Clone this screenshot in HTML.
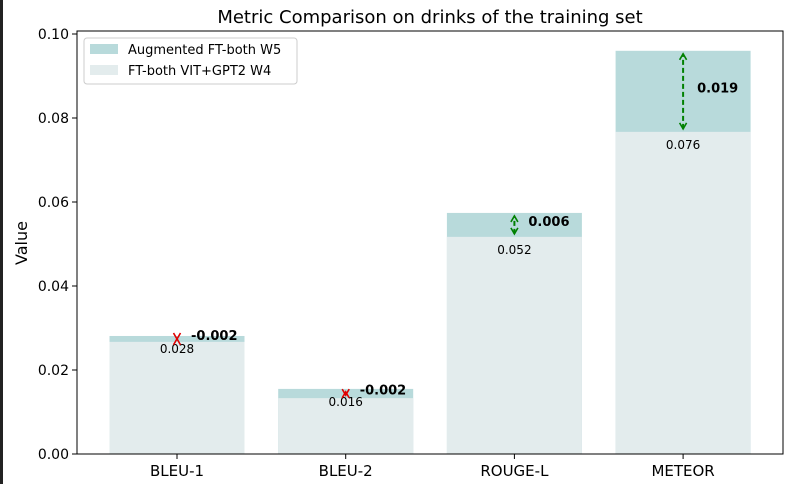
<!DOCTYPE html>
<html><head><meta charset="utf-8"><style>
body{margin:0;background:#fff;}
svg{display:block;font-family:"DejaVu Sans","Liberation Sans",sans-serif;}
</style></head><body>
<svg id="c" width="788" height="484">
<rect x="0" y="0" width="3" height="484" fill="#222"/>
<text x="430" y="23" text-anchor="middle" font-size="18">Metric Comparison on drinks of the training set</text>
<text x="0" y="0" transform="translate(27,243) rotate(-90)" text-anchor="middle" font-size="16">Value</text>
<g id="g"></g>
</svg>
<script>
const categories=["BLEU-1","BLEU-2","ROUGE-L","METEOR"];
const baseline=[0.0281,0.0155,0.0517,0.0767];
const augmented=[0.0267,0.0133,0.0574,0.0960];
const baseLabels=["0.028","0.016","0.052","0.076"];
const deltaLabels=["-0.002","-0.002","0.006","0.019"];
const yTicks=[0,0.02,0.04,0.06,0.08,0.10];
const yTickLabels=["0.00","0.02","0.04","0.06","0.08","0.10"];
const NS="http://www.w3.org/2000/svg";
const g=document.getElementById('g');
const L=77,R=783,T=31,B=454;
const y=v=>B-v*4200;
const xc=i=>177+i*168.7;
function mk(t,a,txt){const e=document.createElementNS(NS,t);for(const k in a)e.setAttribute(k,a[k]);if(txt!==undefined)e.textContent=txt;g.appendChild(e);return e;}
categories.forEach((c,i)=>{
 const hi=Math.max(baseline[i],augmented[i]),lo=Math.min(baseline[i],augmented[i]);
 let e=mk('rect',{x:xc(i)-67.5,y:y(hi),width:135,height:B-y(hi),fill:'#b8dadb'});
 
 
 e=mk('rect',{x:xc(i)-67.5,y:y(lo),width:135,height:B-y(lo),fill:'#e3eced'});
 
 
 e=mk('text',{x:xc(i),y:y(baseline[i])+17,'text-anchor':'middle','font-size':12},baseLabels[i]);
 
 
 const pos=augmented[i]>=baseline[i];const col=pos?'#008000':'#e00000';
 const r1=y(baseline[i]),r2=y(augmented[i]);const s=Math.sign(r2-r1);
 const y1=r1+s*3,y2=r2-s*3;
 e=mk('line',{x1:xc(i),x2:xc(i),y1:y1,y2:y2,stroke:col,'stroke-width':2,'stroke-dasharray':'5,3'});
 
 
 [[y1,y2],[y2,y1]].forEach(p2=>{const yy=p2[0],d=Math.sign(p2[1]-yy)||1;
  const p=mk('polyline',{points:`${xc(i)-3.5},${yy+d*6} ${xc(i)},${yy} ${xc(i)+3.5},${yy+d*6}`,fill:'none',stroke:col,'stroke-width':1.6});
  
  });
 e=mk('text',{x:xc(i)+14,y:(r1+r2)/2+1,'font-size':13,'font-weight':'bold'},deltaLabels[i]);
 
 
 e=mk('line',{x1:xc(i),x2:xc(i),y1:B,y2:B+5,stroke:'#000'});
 
 
 e=mk('text',{x:xc(i),y:B+22,'text-anchor':'middle','font-size':15},c);
 
 
});
yTicks.forEach((v,i)=>{
 let e=mk('line',{x1:L-5,x2:L,y1:y(v),y2:y(v),stroke:'#000'});
 
 
 e=mk('text',{x:L-8,y:y(v)+5,'text-anchor':'end','font-size':14},yTickLabels[i]);
 
 
});
let f=mk('rect',{x:L,y:T,width:R-L,height:B-T,fill:'none',stroke:'#000'});


let lg=mk('rect',{x:84,y:38,width:213,height:46,fill:'#fff',stroke:'#ccc',rx:3});


[["#b8dadb","Augmented FT-both W5",50],["#e3eced","FT-both VIT+GPT2 W4",71]].forEach(a=>{
 let e=mk('rect',{x:90,y:a[2]-6,width:28,height:10,fill:a[0]});
 
 
 e=mk('text',{x:128,y:a[2]+4,'font-size':13},a[1]);
 
 
});
</script>
</body></html>
